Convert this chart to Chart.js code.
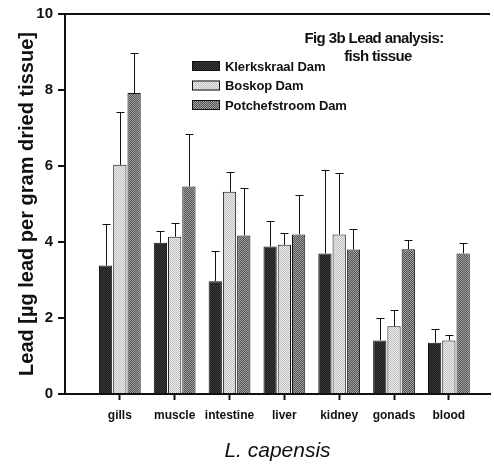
<!DOCTYPE html>
<html>
<head>
<meta charset="utf-8">
<script src="https://cdn.jsdelivr.net/npm/chart.js@4.4.0/dist/chart.umd.min.js"></script>
<style>
  body { margin: 0; background: #fff; }
  #chart { display: block; }
</style>
</head>
<body>
<canvas id="chart" width="494" height="464"></canvas>
<script>
const categories = ['gills', 'muscle', 'intestine', 'liver', 'kidney', 'gonads', 'blood'];
const sites = ['Klerkskraal Dam', 'Boskop Dam', 'Potchefstroom Dam'];

// mean lead values
const klerkskraal = [3.38, 3.98, 2.97, 3.88, 3.70, 1.41, 1.35];
const boskop = [6.03, 4.14, 5.32, 3.93, 4.20, 1.78, 1.41];
const potchefstroom = [7.92, 5.46, 4.17, 4.20, 3.80, 3.81, 3.70];

// upper error bars (sd)
const klerkskraalSd = [1.09, 0.31, 0.79, 0.66, 2.19, 0.59, 0.36];
const boskopSd = [1.38, 0.37, 0.53, 0.30, 1.62, 0.44, 0.13];
const potchefstroomSd = [1.05, 1.38, 1.24, 1.04, 0.53, 0.24, 0.27];

const yTicks = [0, 2, 4, 6, 8, 10];
const figTitle = ['Fig 3b Lead analysis:', 'fish tissue'];

function makePattern(c1, c2) {
    let p = document.createElement('canvas');
    p.width = 2;
    p.height = 2;
    let pc = p.getContext('2d');
    pc.fillStyle = c1;
    pc.fillRect(0, 0, 2, 2);
    pc.fillStyle = c2;
    pc.fillRect(0, 0, 1, 1);
    pc.fillRect(1, 1, 1, 1);
    return pc.createPattern(p, 'repeat');
}

const fills = [
    makePattern('#1c1c1c', '#3a3a3a'),
    makePattern('#efefef', '#bdbdbd'),
    makePattern('#525252', '#a2a2a2')
];

const means = [klerkskraal, boskop, potchefstroom];
const sds = [klerkskraalSd, boskopSd, potchefstroomSd];

let datasets = [];
for (let i = 0; i < sites.length; i++) {
    datasets.push({
        label: sites[i],
        data: categories.map((c, j) => ({ x: j + 1, y: means[i][j] })),
        backgroundColor: fills[i],
        borderColor: '#111',
        borderWidth: 1,
        categoryPercentage: 0.78,
        barPercentage: 0.93
    });
}

// one sided error bars above each bar
const errorBars = {
    id: 'errorBars',
    afterDatasetsDraw(chart) {
        let c = chart.ctx;
        let y = chart.scales.y;
        c.save();
        c.strokeStyle = '#111';
        c.lineWidth = 1;
        for (let i = 0; i < sds.length; i++) {
            let meta = chart.getDatasetMeta(i);
            meta.data.forEach((bar, j) => {
                let top = y.getPixelForValue(means[i][j] + sds[i][j]);
                let x = Math.round(bar.x) + 0.5;
                c.beginPath();
                c.moveTo(x, bar.y);
                c.lineTo(x, Math.round(top) + 0.5);
                c.moveTo(x - 4, Math.round(top) + 0.5);
                c.lineTo(x + 4, Math.round(top) + 0.5);
                c.stroke();
            });
        }
        c.restore();
    }
};

// legend and figure title inside the plot
const insideText = {
    id: 'insideText',
    afterDraw(chart) {
        let c = chart.ctx;
        c.save();
        c.fillStyle = '#111';
        c.textAlign = 'center';
        c.textBaseline = 'middle';
        c.font = 'bold 15px "Liberation Sans", Arial, sans-serif';
        c.letterSpacing = '-0.6px';
        c.fillText(figTitle[0], 374, 39);
        c.fillText(figTitle[1], 378, 57);

        c.font = 'bold 13px "Liberation Sans", Arial, sans-serif';
        c.letterSpacing = '-0.1px';
        c.textAlign = 'left';
        for (let i = 0; i < sites.length; i++) {
            let cy = 66 + i * 19.5;
            c.fillStyle = fills[i];
            c.fillRect(192, cy - 5, 28, 10);
            c.strokeStyle = '#111';
            c.lineWidth = 1;
            c.strokeRect(192.5, cy - 4.5, 27, 9);
            c.fillStyle = '#111';
            c.fillText(sites[i], 225, cy + 1);
        }
        c.restore();
    }
};

const chart = new Chart(document.getElementById('chart'), {
    type: 'bar',
    data: { datasets: datasets },
    plugins: [errorBars, insideText],
    options: {
        responsive: false,
        animation: false,
        layout: { padding: { top: 11, right: 4, bottom: 0, left: 0 } },
        plugins: {
            legend: { display: false },
            tooltip: { enabled: false }
        },
        scales: {
            x: {
                type: 'linear',
                min: 0,
                max: 7.75,
                offset: false,
                afterBuildTicks: s => { s.ticks = categories.map((c, i) => ({ value: i + 1 })); },
                afterFit: s => { s.height = 70; },
                ticks: {
                    autoSkip: false,
                    maxRotation: 0,
                    padding: 8,
                    color: '#111',
                    font: { family: '"Liberation Sans", Arial, sans-serif', size: 12, weight: 'bold' },
                    callback: v => categories[Math.round(v) - 1]
                },
                grid: { offset: false, drawOnChartArea: false, tickLength: 6, tickColor: '#111', tickWidth: 2 },
                border: { display: true, color: '#111', width: 2 },
                title: {
                    display: true,
                    text: 'L. capensis',
                    color: '#111',
                    padding: 0,
                    font: { family: '"Liberation Sans", Arial, sans-serif', size: 21, style: 'italic' }
                }
            },
            y: {
                min: 0,
                max: 10,
                afterBuildTicks: s => { s.ticks = yTicks.map(v => ({ value: v })); },
                afterFit: s => { s.width = 65; },
                ticks: {
                    padding: 5,
                    color: '#111',
                    font: { family: '"Liberation Sans", Arial, sans-serif', size: 15, weight: 'bold' }
                },
                grid: {
                    color: c => c.tick && c.tick.value === 10 ? '#111' : 'rgba(0,0,0,0)',
                    lineWidth: 2,
                    tickColor: '#111',
                    tickLength: 7
                },
                border: { display: true, color: '#111', width: 2 },
                title: {
                    display: true,
                    text: 'Lead [µg lead per gram dried tissue]',
                    color: '#111',
                    padding: { top: 15, bottom: 0 },
                    font: { family: '"Liberation Sans", Arial, sans-serif', size: 20, weight: 'bold' }
                }
            }
        }
    }
});
</script>
</body>
</html>
